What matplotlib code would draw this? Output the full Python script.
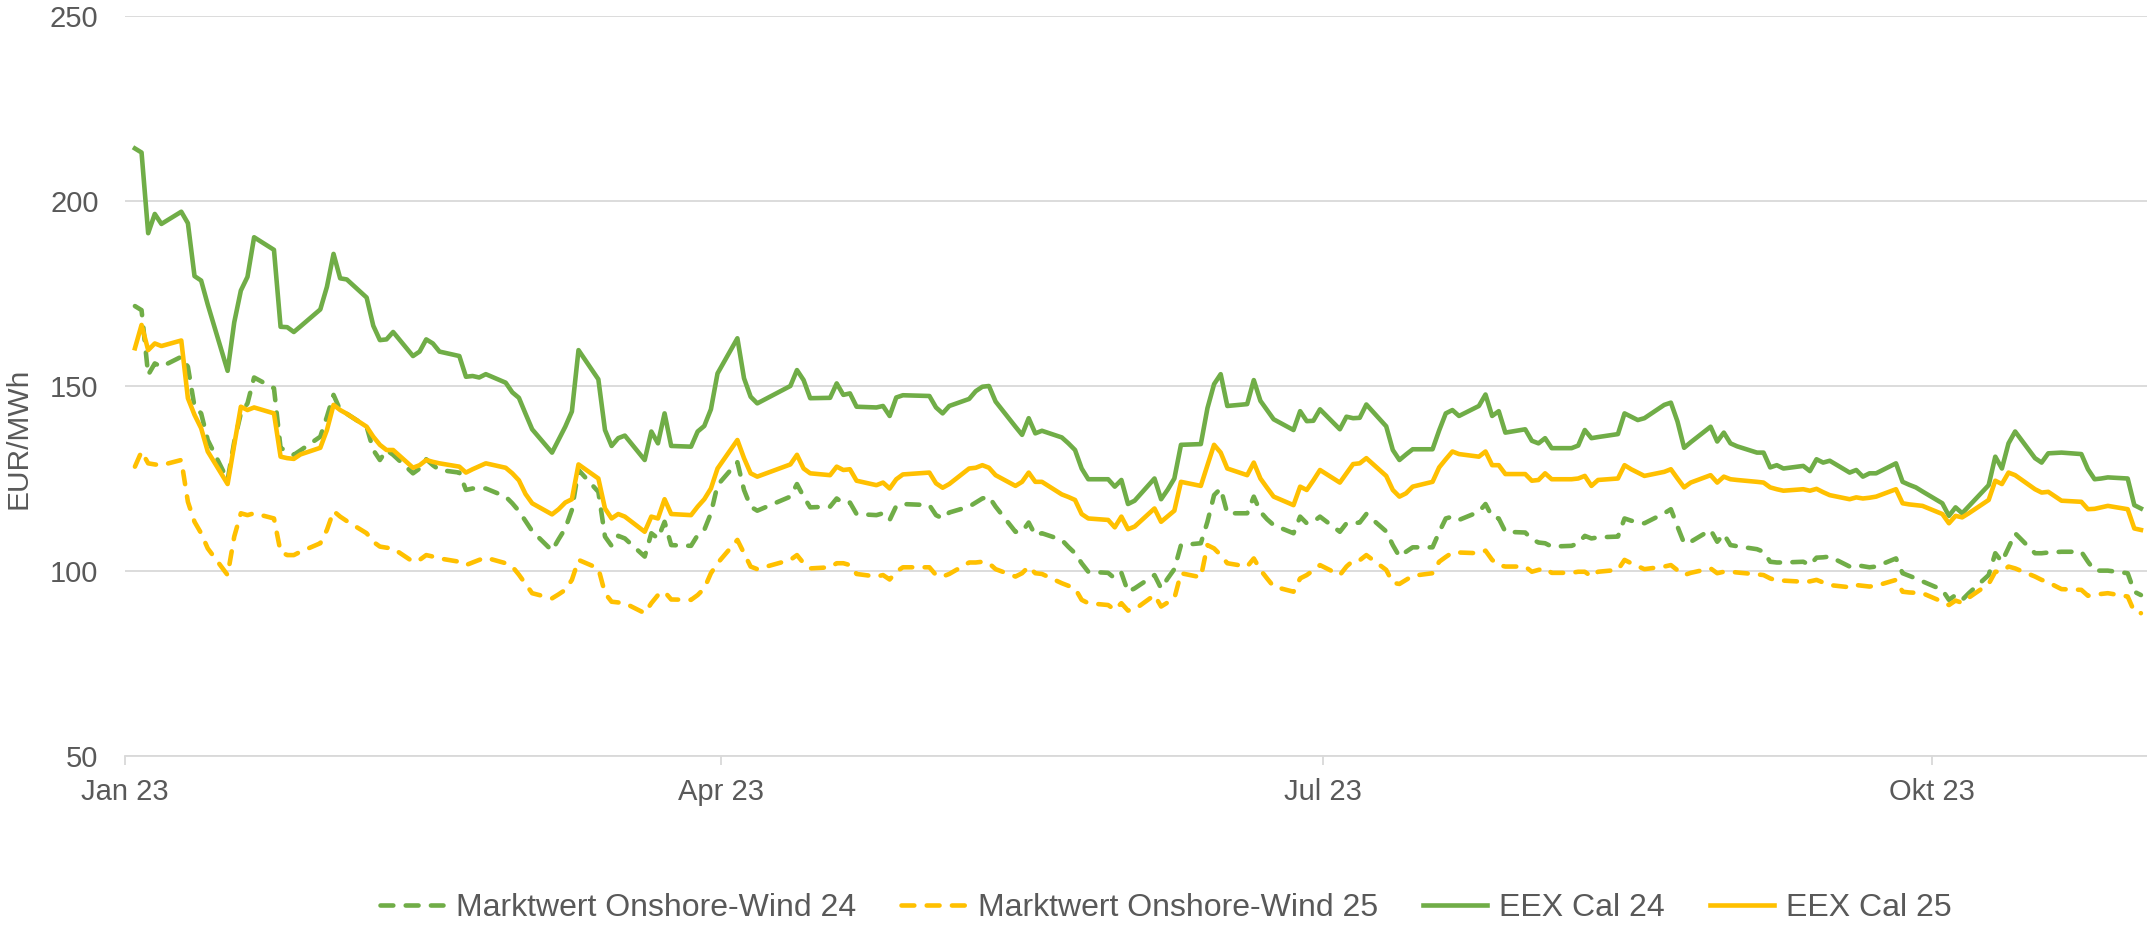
import matplotlib
matplotlib.use('Agg')
import matplotlib.pyplot as plt
import pandas as pd

# ---------------- data ----------------
# trading days 2 Jan 2023 .. 1 Nov 2023 (Easter + 1 May without quotes)
trading_days = pd.bdate_range('2023-01-02', '2023-11-01', freq='C',
                              holidays=['2023-04-07', '2023-04-10', '2023-05-01'])

eex_cal_24 = [
    214.2, 213.1, 191.3, 196.5, 193.8,
    197.1, 194.0, 179.7, 178.5, 172.0,
    154.1, 167.2, 175.8, 179.5, 190.2,
    186.8, 166.0, 165.9, 164.6, 166.1,
    170.7, 176.8, 185.7, 179.1, 178.8,
    173.9, 166.3, 162.4, 162.6, 164.6,
    158.1, 159.3, 162.6, 161.5, 159.3,
    158.1, 152.5, 152.7, 152.3, 153.2,
    150.9, 148.3, 146.8, 142.5, 138.3,
    132.0, 135.5, 139.0, 143.1, 159.7,
    151.8, 138.1, 133.8, 135.9, 136.6,
    130.0, 137.7, 134.5, 142.6, 133.8,
    133.6, 137.7, 139.2, 143.7, 153.4,
    162.9, 152.1, 147.1, 145.3,
    150.0, 154.3, 151.6, 146.7,
    146.8, 150.7, 147.6, 148.0, 144.4,
    144.2, 144.6, 141.9, 146.9, 147.5,
    147.3, 144.2, 142.6, 144.6,
    146.5, 148.6, 149.8, 150.0, 145.8,
    139.0, 136.8, 141.3, 137.2, 137.9,
    136.1, 134.5, 132.7, 127.7, 124.8,
    124.8, 122.8, 124.6, 118.1, 119.0,
    125.0, 119.4, 122.0, 125.0, 134.1,
    134.3, 144.0, 150.5, 153.2, 144.6,
    145.1, 151.6, 146.0, 143.5, 141.0,
    138.1, 143.2, 140.5, 140.6, 143.7,
    138.3, 141.7, 141.3, 141.4, 145.0,
    139.1, 132.7, 130.0, 131.5, 132.9,
    132.9, 138.0, 142.6, 143.5, 141.9,
    144.6, 147.7, 141.9, 143.2, 137.4,
    138.3, 135.2, 134.5, 135.9, 133.2,
    133.2, 133.9, 138.1, 135.9, 136.2,
    137.0, 142.6, 141.7, 140.8, 141.3,
    144.9, 145.5, 140.4, 133.3, 134.8,
    139.0, 135.0, 137.4, 134.5, 133.7,
    132.0, 132.0, 128.0, 128.6, 127.7,
    128.4, 127.0, 130.2, 129.3, 129.8,
    126.6, 127.3, 125.5, 126.4, 126.4,
    129.1, 124.1, 123.3, 122.6, 121.5,
    118.3, 114.9, 117.2, 115.6, 117.5,
    123.2, 130.9, 127.7, 134.5, 137.7,
    130.5, 129.3, 131.8, 131.9, 132.0,
    131.6, 127.5, 124.8, 125.0, 125.3,
    125.0, 117.8, 116.9,
]

eex_cal_25 = [
    160.2, 166.5, 159.7, 161.5, 160.8,
    162.3, 146.7, 142.2, 138.6, 132.3,
    123.5, 134.1, 144.4, 143.5, 144.2,
    142.6, 130.9, 130.5, 130.3, 131.5,
    133.3, 138.1, 144.9, 143.5, 142.5,
    139.0, 136.3, 134.1, 132.7, 132.7,
    127.9, 128.6, 130.0, 129.5, 129.1,
    128.2, 126.6, 127.5, 128.3, 129.1,
    127.9, 126.4, 124.5, 120.8, 118.3,
    115.3, 116.7, 118.5, 119.4, 128.8,
    125.0, 116.9, 114.2, 115.4, 114.7,
    110.6, 114.7, 114.2, 119.4, 115.4,
    115.1, 117.4, 119.4, 122.3, 127.7,
    135.4, 130.5, 126.4, 125.5,
    128.8, 131.4, 127.7, 126.4,
    125.9, 128.2, 127.3, 127.5, 124.4,
    123.2, 123.9, 122.3, 124.8, 126.1,
    126.6, 123.7, 122.5, 123.5,
    127.7, 127.9, 128.6, 127.9, 125.9,
    123.0, 124.1, 126.6, 124.1, 124.1,
    120.7, 120.0, 119.2, 115.4, 114.2,
    113.8, 111.8, 114.7, 111.3, 112.0,
    116.9, 113.3, 114.8, 116.3, 124.1,
    123.0, 128.6, 134.1, 132.0, 127.7,
    125.9, 129.3, 125.0, 122.5, 120.1,
    117.8, 122.8, 121.9, 124.5, 127.3,
    123.9, 126.4, 128.9, 129.1, 130.5,
    125.7, 121.9, 120.1, 121.0, 122.8,
    124.1, 128.0, 130.2, 132.3, 131.6,
    130.9, 132.3, 128.6, 128.6, 126.2,
    126.2, 124.4, 124.6, 126.4, 124.8,
    124.8, 125.0, 125.7, 123.0, 124.6,
    125.0, 128.6, 127.5, 126.6, 125.7,
    126.8, 127.5, 125.0, 122.6, 123.9,
    125.9, 123.9, 125.5, 124.8, 124.6,
    124.1, 123.9, 122.6, 122.1, 121.7,
    122.1, 121.7, 122.2, 121.3, 120.5,
    119.4, 119.9, 119.6, 119.8, 120.1,
    122.1, 118.3, 118.0, 117.8, 117.6,
    115.4, 112.9, 114.9, 114.5, 115.6,
    119.2, 124.4, 123.5, 126.6, 125.9,
    122.1, 121.2, 121.4, 120.2, 119.0,
    118.7, 116.7, 116.8, 117.2, 117.6,
    116.7, 111.5, 111.1,
]

marktwert_wind_24 = [
    171.6, 170.5, 153.0, 156.1, 155.2,
    157.9, 155.2, 144.4, 142.6, 135.4,
    124.6, 134.9, 142.6, 145.3, 152.3,
    149.4, 133.2, 132.5, 131.4, 132.6,
    136.3, 141.7, 147.6, 143.5, 142.5,
    139.0, 132.7, 130.0, 132.7, 131.4,
    126.4, 127.7, 130.2, 128.6, 127.3,
    126.6, 121.9, 122.3, 122.3, 122.3,
    120.1, 118.3, 116.2, 113.5, 110.8,
    105.5, 108.6, 111.5, 116.5, 127.3,
    121.4, 109.3, 106.8, 109.5, 108.8,
    103.9, 110.2, 108.8, 113.3, 107.0,
    106.8, 109.7, 111.1, 115.6, 123.2,
    129.4, 121.9, 117.4, 116.3,
    120.1, 123.5, 120.1, 117.2,
    117.4, 119.6, 118.3, 118.5, 115.4,
    115.1, 115.6, 113.8, 117.6, 118.1,
    117.8, 115.1, 114.2, 115.8,
    117.4, 118.5, 119.6, 120.1, 117.4,
    110.6, 110.6, 113.1, 109.7, 110.2,
    108.4, 106.5, 104.8, 102.1, 99.8,
    99.5, 98.0, 99.5, 94.4, 95.3,
    98.9, 95.3, 98.0, 100.5, 107.0,
    107.5, 113.3, 120.5, 122.3, 115.6,
    115.6, 120.1, 116.0, 114.0, 112.4,
    110.2, 114.7, 112.9, 113.3, 114.7,
    110.6, 112.9, 112.9, 113.1, 115.4,
    110.7, 107.0, 103.9, 105.2, 106.4,
    106.4, 110.5, 114.2, 114.7, 113.8,
    116.0, 118.1, 114.7, 114.2, 110.6,
    110.4, 108.6, 107.7, 107.5, 106.6,
    106.8, 107.5, 109.5, 108.8, 109.1,
    109.3, 114.2, 113.6, 113.2, 112.9,
    115.6, 116.7, 112.0, 107.5, 107.9,
    111.1, 107.9, 110.0, 107.0, 106.7,
    105.9, 105.2, 102.5, 102.3, 102.3,
    102.5, 101.6, 103.6, 103.7, 103.9,
    101.2, 101.6, 101.3, 101.0, 101.2,
    103.4, 99.4, 98.7, 98.0, 97.2,
    94.9, 92.2, 93.5, 92.2, 94.0,
    98.9, 104.8, 102.5, 106.3, 110.2,
    104.8, 104.8, 105.0, 105.1, 105.2,
    105.2, 102.5, 100.1, 100.1, 100.1,
    99.4, 94.4, 93.5,
]

marktwert_wind_25 = [
    128.2, 132.3, 129.1, 128.8, 128.6,
    130.0, 118.7, 113.3, 110.2, 106.1,
    98.9, 109.3, 115.6, 115.1, 115.6,
    114.2, 105.2, 104.3, 104.3, 105.2,
    107.5, 111.1, 116.2, 114.7, 113.5,
    110.2, 107.9, 106.6, 106.3, 106.1,
    102.5, 103.0, 104.3, 103.9, 103.4,
    102.5, 101.6, 102.3, 103.0, 103.6,
    102.1, 101.2, 99.0, 96.5, 94.0,
    92.6, 93.7, 94.9, 97.6, 103.0,
    100.7, 94.0, 91.7, 91.5, 91.3,
    88.6, 91.3, 93.5, 94.4, 92.3,
    92.2, 93.5, 95.3, 99.4, 102.1,
    108.4, 104.8, 101.2, 100.5,
    103.0, 104.3, 102.1, 100.7,
    101.0, 102.1, 102.1, 101.6, 99.2,
    98.5, 98.9, 97.7, 99.8, 101.0,
    101.0, 98.9, 98.5, 99.2,
    102.3, 102.3, 102.5, 102.1, 100.5,
    98.5, 99.4, 101.2, 99.4, 99.2,
    96.7, 96.0, 95.3, 92.2, 91.3,
    90.8, 89.5, 91.3, 89.3, 89.6,
    93.5, 90.4, 91.5, 92.6, 99.4,
    98.3, 107.0, 106.1, 104.3, 102.1,
    101.2, 103.4, 100.3, 98.0, 95.8,
    94.4, 98.0, 98.9, 100.2, 101.6,
    98.9, 101.2, 102.8, 102.9, 104.3,
    100.3, 96.8, 96.5, 97.6, 98.7,
    99.4, 102.5, 103.8, 105.0, 105.0,
    104.8, 105.5, 103.0, 101.6, 101.2,
    101.2, 99.8, 100.3, 100.7, 99.5,
    99.5, 99.8, 99.8, 98.5, 99.8,
    100.3, 103.0, 102.1, 101.3, 100.5,
    101.2, 101.6, 100.2, 98.9, 99.5,
    100.7, 99.4, 99.8, 99.8, 99.6,
    99.1, 98.9, 98.0, 97.4, 97.4,
    97.1, 97.2, 97.6, 96.9, 96.2,
    95.6, 96.2, 96.0, 95.8, 96.0,
    97.6, 94.4, 94.2, 94.1, 94.0,
    91.7, 90.8, 92.0, 91.4, 92.8,
    96.5, 99.8, 99.8, 101.2, 100.7,
    98.5, 97.6, 97.0, 96.0, 95.1,
    94.9, 93.3, 93.6, 93.8, 94.0,
    93.1, 89.0, 88.6,
]

series_labels = ['Marktwert Onshore-Wind 24', 'Marktwert Onshore-Wind 25',
                 'EEX Cal 24', 'EEX Cal 25']
tick_dates = ['2023-01-01', '2023-04-01', '2023-07-01', '2023-10-01']
tick_labels = ['Jan 23', 'Apr 23', 'Jul 23', 'Okt 23']
y_ticks = [50, 100, 150, 200, 250]

for s in (eex_cal_24, eex_cal_25, marktwert_wind_24, marktwert_wind_25):
    assert len(s) == len(trading_days), (len(s), len(trading_days))

# ---------------- styling ----------------
GREEN = '#70AD47'
YELLOW = '#FFC000'
GRID = '#D9D9D9'
TEXT = '#595959'
FS_TICK = 21
FS_YLAB = 21.5
FS_LEG = 23
LW = 3.3
DASH = (0, (2.8, 2.7))

plt.rcParams['font.family'] = ['Liberation Sans', 'DejaVu Sans']

W, H = 2147, 930
fig = plt.figure(figsize=(W / 100, H / 100), dpi=100)
ax = fig.add_axes([125 / W, 174 / H, 2022 / W, 740 / H])

# Excel date axis puts every daily value in the middle of its day slot
x = trading_days + pd.Timedelta(hours=12)

data = [marktwert_wind_24, marktwert_wind_25, eex_cal_24, eex_cal_25]
colors = [GREEN, YELLOW, GREEN, YELLOW]
styles = [DASH, DASH, '-', '-']
handles = []
for vals, col, ls, lab in zip(data, colors, styles, series_labels):
    ln, = ax.plot(x, vals, color=col, lw=LW, linestyle=ls, label=lab,
                  solid_joinstyle='round', dash_joinstyle='round',
                  dash_capstyle='round')
    handles.append(ln)

ax.set_ylim(50, 250)
ax.set_yticks(y_ticks)
ax.set_xlim(pd.Timestamp('2023-01-01'), pd.Timestamp('2023-11-02 10:00'))
ax.set_xticks(pd.to_datetime(tick_dates))
ax.set_xticklabels(tick_labels)

ax.grid(axis='y', color=GRID, lw=1.3)
ax.set_axisbelow(True)
for sp in ('left', 'right', 'top'):
    ax.spines[sp].set_visible(False)
ax.spines['bottom'].set_color(GRID)
ax.spines['bottom'].set_linewidth(1.3)

ax.tick_params(axis='x', length=6.5, width=1.3, color=GRID, labelsize=FS_TICK,
               labelcolor=TEXT, pad=9.5)
ax.tick_params(axis='y', length=0, labelsize=FS_TICK, labelcolor=TEXT, pad=19)

fig.text(19 / W, 1 - 438 / H, 'EUR/MWh', rotation=90, ha='center',
         va='center', fontsize=FS_YLAB, color=TEXT)

fig.legend(handles=handles, labels=series_labels, loc='center',
           bbox_to_anchor=(0.543, 22 / H), ncol=4, frameon=False,
           fontsize=FS_LEG, handlelength=2.0, handletextpad=0.4,
           columnspacing=1.4, labelcolor=TEXT)

fig.savefig('out.png', dpi=100)
